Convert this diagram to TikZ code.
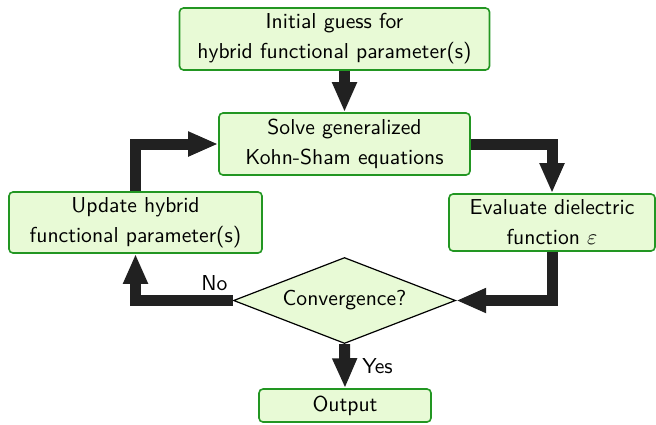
\documentclass[tikz,border=0pt]{standalone}
\usepackage{amssymb}
\usepackage{amsmath}
\usepackage{xcolor}
\usetikzlibrary{shapes.geometric,arrows.meta}

\definecolor{boxfill}{RGB}{232,250,214}
\definecolor{boxline}{RGB}{34,150,34}

\tikzset{
  stepbox/.style={rectangle, rounded corners=2pt, draw=boxline, line width=0.8pt,
    fill=boxfill, align=center, inner sep=0pt},
  testbox/.style={diamond, aspect=2.6, draw=black, line width=0.6pt, fill=boxfill,
    inner sep=0pt, minimum width=111pt, minimum height=43pt},
  flow/.style={draw=black!87, line width=5.5pt,
    -{Triangle[length=15pt,width=11.5pt]}}
}

\begin{document}
\begin{tikzpicture}[x=0.5pt, y=-0.5pt, font=\sffamily\fontsize{10.8pt}{15pt}\selectfont]
      \useasboundingbox (0,0) rectangle (656,424);

      \node[stepbox, name=init, minimum width=155pt, minimum height=31pt] at (334.5,39) {Initial guess for\\hybrid functional parameter(s)};
      \node[stepbox, name=solve, minimum width=125.5pt, minimum height=31pt] at (344.5,144) {Solve generalized\\Kohn-Sham equations};
      \node[stepbox, name=update, minimum width=126.5pt, minimum height=30.5pt] at (135.5,222.5) {Update hybrid\\functional parameter(s)};
      \node[stepbox, name=eval, minimum width=103pt, minimum height=28.5pt] at (552,222.5) {Evaluate dielectric\\function $\varepsilon$};
      \node[testbox, name=conv] at (344.5,300.5) {Convergence?};
      \node[stepbox, name=out, minimum width=86pt, minimum height=16.5pt] at (345,405.5) {Output};

      \draw[flow] (solve.north |- init.south) -- (solve.north);
      \draw[flow] (solve.east) -| (eval.north);
      \draw[flow] (eval.south) |- (conv.east);
      \draw[flow] (conv.west) -| node[pos=0, anchor=base east, inner sep=0pt, yshift=5pt] {No} (update.south);
      \draw[flow] (update.north) |- (solve.west);
      \draw[flow] (conv.south) -- node[right=6pt, inner sep=0pt] {Yes} (out.north);
   \end{tikzpicture}
\end{document}
